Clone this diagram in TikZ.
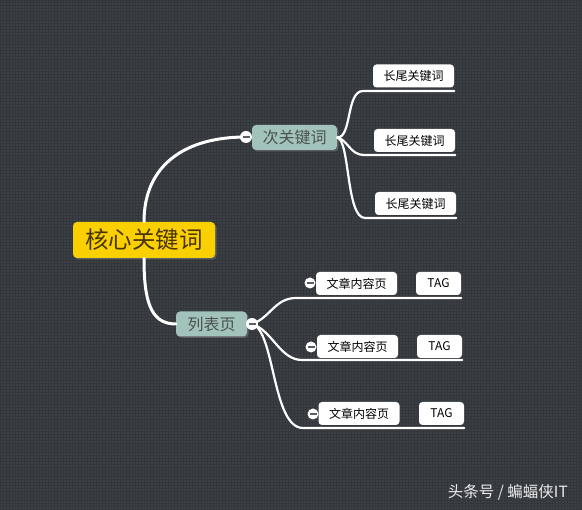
\documentclass[tikz,border=0pt]{standalone}
\usepackage{fontspec}
\setmainfont{Noto Sans CJK SC}
\usetikzlibrary{shadows}
\definecolor{bgc}{HTML}{3B4044}
\definecolor{gridc}{HTML}{33373B}
\definecolor{coreyellow}{HTML}{FAD000}
\definecolor{coretext}{HTML}{4A3500}
\definecolor{subfill}{HTML}{A2C3BB}
\definecolor{subtext}{HTML}{4B5250}
\definecolor{markc}{HTML}{5A5F63}
\tikzset{
  corebox/.style={fill=coreyellow, rounded corners=4pt, minimum width=142pt, minimum height=36pt,
    text=coretext, font=\fontsize{23.5}{25}\selectfont, inner sep=0pt,
    drop shadow={shadow xshift=1.5pt, shadow yshift=-1.5pt, opacity=0.5}},
  subbox/.style={fill=subfill, rounded corners=4pt, minimum height=25pt,
    text=subtext, font=\fontsize{16}{18}\selectfont, inner sep=0pt,
    drop shadow={shadow xshift=1.5pt, shadow yshift=-1.5pt, opacity=0.5}},
  leafbox/.style={fill=white, rounded corners=3.5pt, minimum width=81pt, minimum height=23pt,
    text=black, font=\fontsize{12}{14}\selectfont, inner sep=0pt},
  tagbox/.style={leafbox, minimum width=45pt},
  togglec/.style={circle, fill=white, minimum size=12pt, inner sep=0pt,
    path picture={\draw[markc, line width=1.6pt] ([xshift=-3.5pt]path picture bounding box.center) -- ([xshift=3.5pt]path picture bounding box.center);}},
  togglesm/.style={togglec, minimum size=11pt},
  mainline/.style={white, line width=3pt, line cap=round},
  subline/.style={white, line width=2.2pt, line cap=round},
  wm/.style={text=white!85!gray, font=\fontsize{15.5}{17}\selectfont, inner sep=0pt}
}
\begin{document}
\begin{tikzpicture}[x=1pt, y=-1pt]
\useasboundingbox (0,0) rectangle (582,510);
\fill[bgc] (0,0) rectangle (582,510);
\draw[gridc, line width=1pt, step=3pt] (0,0) grid (582,510);

% nodes
\node[corebox] (core) at (144,240) {核心关键词};
\node[subbox, minimum width=85pt] (sub1) at (294.5,137.5) {次关键词};
\node[subbox, minimum width=71pt] (sub2) at (211.5,324) {列表页};

\node[leafbox] (l1) at (413.5,76) {长尾关键词};
\node[leafbox] (l2) at (414.5,140.5) {长尾关键词};
\node[leafbox] (l3) at (415.5,203.5) {长尾关键词};

\node[leafbox] (a1) at (356.5,283.5) {文章内容页};
\node[tagbox] (t1) at (438.5,283.5) {TAG};
\node[leafbox] (a2) at (357.5,346.5) {文章内容页};
\node[tagbox] (t2) at (439.5,346.5) {TAG};
\node[leafbox] (a3) at (359,413.5) {文章内容页};
\node[tagbox] (t3) at (441.5,413.5) {TAG};

% connector endpoints
\coordinate (u1) at (363,91);
\coordinate (u2) at (364,155);
\coordinate (u3) at (365,218);
\coordinate (v1) at (296,298);
\coordinate (v2) at (302,360);
\coordinate (v3) at (303,428);

% main branches
\draw[mainline] (core.north) .. controls (144,165) and (185,137) .. (246,137);
\draw[mainline] (core.south) .. controls (144,300) and (150,324) .. (sub2.west);

% sub1 children
\draw[subline] (sub1.east) .. controls (352,138) and (346,91) .. (u1) -- (u1 -| l1.east);
\draw[subline] (sub1.east) .. controls (348,140) and (350,155) .. (u2) -- (u2 -| l2.east);
\draw[subline] (sub1.east) .. controls (350,140) and (346,218) .. (u3) -- (u3 -| l3.east);

% sub2 children
\draw[subline] (252,324) .. controls (270,318) and (275,298) .. (v1) -- (v1 -| t1.east);
\draw[subline] (252,324) .. controls (272,330) and (280,360) .. (v2) -- (v2 -| t2.east);
\draw[subline] (252,324) .. controls (275,330) and (272,428) .. (v3) -- (v3 -| t3.east);

% toggles
\node[togglec] (k1) at (246,137) {};
\node[togglec] (k2) at (252,324) {};
\node[togglesm] (k3) at (310,283) {};
\node[togglesm] (k4) at (311,347) {};
\node[togglesm] (k5) at (313,414) {};

% watermark
\node[wm, anchor=east] (wmk) at (568,492) {头条号 / 蝙蝠侠IT};
\end{tikzpicture}
\end{document}
